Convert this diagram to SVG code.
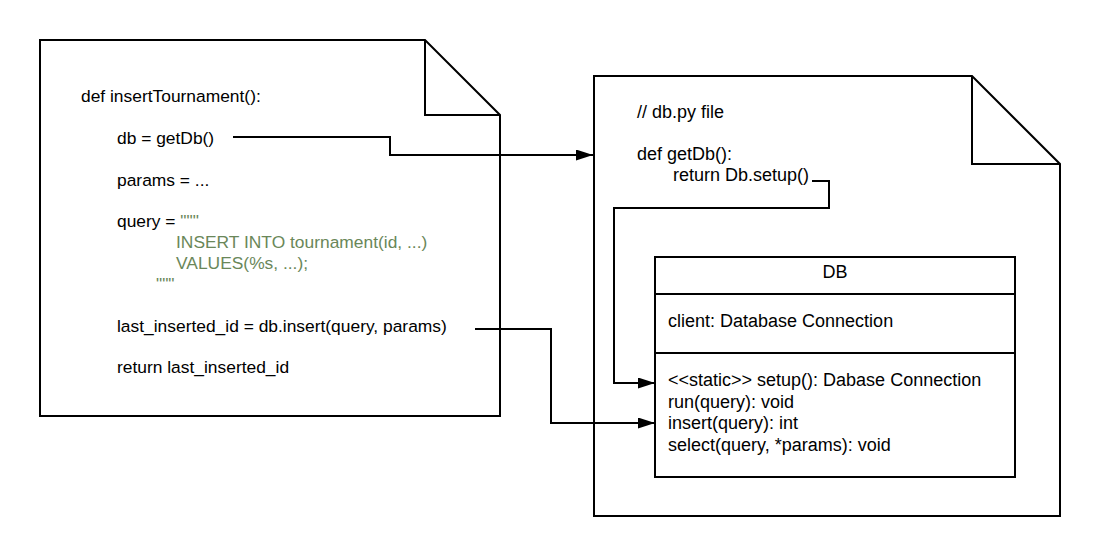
<svg xmlns="http://www.w3.org/2000/svg" width="1100" height="557" viewBox="0 0 1100 557">
  <defs>
    <marker id="arrow" markerWidth="17" markerHeight="11" refX="17" refY="5.5" orient="auto" markerUnits="userSpaceOnUse">
      <path d="M0,0 L17,5.5 L0,11 Z" fill="#000"/>
    </marker>
  </defs>
  <style>
    .shape { fill: #fff; stroke: #000; stroke-width: 2; }
    .fold { fill: none; stroke: #000; stroke-width: 2; }
    .t { font-family: "Liberation Sans", Arial, sans-serif; font-size: 17.4px; fill: #000; }
    .r { font-size: 18px; }
    .g { fill: #6a8759; }
    .conn { fill: none; stroke: #000; stroke-width: 2; }
  </style>
  <rect width="1100" height="557" fill="#fff"/>
  <g id="left-doc">
    <path class="shape" d="M40,40 L425,40 L500,115 L500,416 L40,416 Z"/>
    <path class="fold" d="M425,40 L425,115 L500,115"/>
    <text class="t" x="81" y="102">def insertTournament():</text>
    <text class="t" x="117" y="144">db = getDb()</text>
    <text class="t" x="117" y="186">params = ...</text>
    <text class="t" x="117" y="227">query = <tspan class="g">"""</tspan></text>
    <text class="t g" x="176" y="248">INSERT INTO tournament(id, ...)</text>
    <text class="t g" x="176" y="269">VALUES(%s, ...);</text>
    <text class="t g" x="156" y="290">"""</text>
    <text class="t" x="117" y="332">last_inserted_id = db.insert(query, params)</text>
    <text class="t" x="117" y="373">return last_inserted_id</text>
  </g>
  <g id="right-doc">
    <path class="shape" d="M594,76 L972,76 L1060,164 L1060,516 L594,516 Z"/>
    <path class="fold" d="M972,76 L972,164 L1060,164"/>
    <text class="t r" x="637" y="118">// db.py file</text>
    <text class="t r" x="637" y="160">def getDb():</text>
    <text class="t r" x="673" y="181">return Db.setup()</text>
  </g>
  <g id="db-class">
    <rect class="shape" x="655" y="257" width="360" height="220"/>
    <line class="fold" x1="655" y1="294" x2="1015" y2="294"/>
    <line class="fold" x1="655" y1="353" x2="1015" y2="353"/>
    <text class="t r" x="835" y="278" text-anchor="middle">DB</text>
    <text class="t r" x="668" y="327">client: Database Connection</text>
    <text class="t r" x="668" y="386">&lt;&lt;static&gt;&gt; setup(): Dabase Connection</text>
    <text class="t r" x="668" y="408">run(query): void</text>
    <text class="t r" x="668" y="429">insert(query): int</text>
    <text class="t r" x="668" y="451">select(query, *params): void</text>
  </g>
  <g id="connectors">
    <path class="conn" d="M233,137 L390,137 L390,155 L593,155" marker-end="url(#arrow)"/>
    <path class="conn" d="M475,329 L551,329 L551,423 L655,423" marker-end="url(#arrow)"/>
    <path class="conn" d="M812,181 L829,181 L829,208 L614,208 L614,383 L655,383" marker-end="url(#arrow)"/>
  </g>
</svg>
